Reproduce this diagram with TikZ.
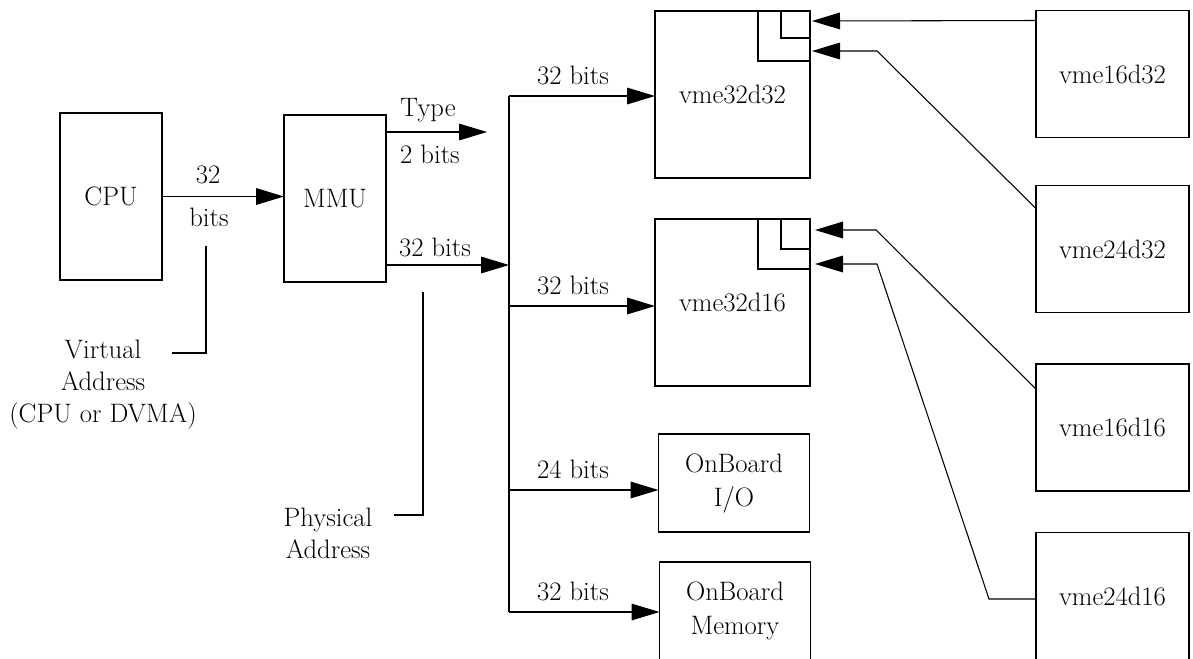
\documentclass[tikz,border=0pt]{standalone}
\usetikzlibrary{positioning, arrows.meta, calc}

\begin{document}
\begin{tikzpicture}[x=0.75pt, y=-0.75pt,
    font=\fontsize{20}{24}\selectfont,
    every node/.style={inner sep=0pt, outer sep=0pt},
    blk/.style={draw, line width=0.8pt, align=center},
    unit/.style={blk, minimum width=76.5pt, minimum height=125.25pt},
    space/.style={blk, minimum width=116.25pt, minimum height=125.25pt},
    board/.style={blk, minimum width=113.25pt, minimum height=73.5pt, font=\fontsize{20}{25.5}\selectfont},
    vmebox/.style={blk, minimum width=114.75pt, minimum height=95.25pt},
    portbox/.style={draw, line width=0.8pt, anchor=north east},
    sig/.style={line width=0.8pt, -{Triangle[length=21pt, width=12.5pt]}},
    wire/.style={line width=0.8pt},
    lbl/.style={align=center}]
\useasboundingbox (0,0) rectangle (1193,658);
\clip (0,0) rectangle (1193,658);

% CPU and MMU
\node[unit] (cpu) at (111,196.5) {CPU};
\node[unit] (mmu) at (335,198.5) {MMU};
\draw[sig] (cpu.east) -- (mmu.west |- cpu.east);
\node (n32) at (208,175) {32};
\node (nbits) at (209,217) {bits};

% Virtual address leader
\node[lbl] (virt) at (103,385) {Virtual\\Address\\(CPU or DVMA)};
\coordinate (vtop) at (206,246);
\coordinate (vend) at (172,353);
\draw[wire] (vtop) |- (vend);

% MMU outputs
\coordinate (typeend) at (487,132);
\draw[sig] (mmu.east |- typeend) -- (typeend);
\node (ntype) at (428,110) {Type};
\node (ntwo) at (430,154) {2 bits};
\coordinate (busin) at (509,265);
\draw[sig] (mmu.east |- busin) -- (busin);
\node (nphys) at (435,247) {32 bits};

% Physical address leader
\node[lbl] (phys) at (328,533) {Physical\\Address};
\coordinate (ptop) at (423,292);
\coordinate (pend) at (394,515);
\draw[wire] (ptop) |- (pend);

% Address spaces
\node[space] (vme32d32) at (732.5,94.5) {vme32d32};
\node[space] (vme32d16) at (732.5,302.5) {vme32d16};
\node[board] (io) at (734,483) {OnBoard\\I/O};
\node[board] (mem) at (735,611) {OnBoard\\Memory};

% Corner ports
\node[portbox, minimum width=39pt, minimum height=37.5pt] (p32a) at (vme32d32.north east) {};
\node[portbox, minimum width=21.75pt, minimum height=20.25pt] (p32b) at (vme32d32.north east) {};
\node[portbox, minimum width=39pt, minimum height=37.5pt] (p16a) at (vme32d16.north east) {};
\node[portbox, minimum width=21.75pt, minimum height=22.5pt] (p16b) at (vme32d16.north east) {};

% Bus
\coordinate (bustop) at (509,96);
\coordinate (busbot) at (509,612);
\draw[wire] (bustop) -- (busbot);
\foreach \y/\dst/\txt in {96/vme32d32/32 bits, 306/vme32d16/32 bits, 490/io/24 bits, 612/mem/32 bits} {
    \coordinate (br) at (509,\y);
    \draw[sig] (br) -- (\dst.west |- br);
    \node at (573,\y-21) {\txt};
}

% VME devices
\node[vmebox] (vme16d32) at (1112.5,74) {vme16d32};
\node[vmebox] (vme24d32) at (1112.5,249) {vme24d32};
\node[vmebox] (vme16d16) at (1112.5,427.5) {vme16d16};
\node[vmebox] (vme24d16) at (1112.5,596) {vme24d16};

\draw[sig] ($(vme16d32.north west)+(0,10)$) -- ($(p32b.north east)+(2,10)$);
\draw[sig] ($(vme24d32.north west)+(0,23)$) -- (877,51) -- ($(p32a.north east)+(2,40)$);
\draw[sig] ($(vme16d16.north west)+(0,25)$) -- (876,230) -- ($(p16b.north east)+(5,11)$);
\draw[sig] ($(vme24d16.west)+(0,3)$) -- (989,599) -- (877,264) -- ($(p16a.north east)+(5,45)$);
\end{tikzpicture}
\end{document}
